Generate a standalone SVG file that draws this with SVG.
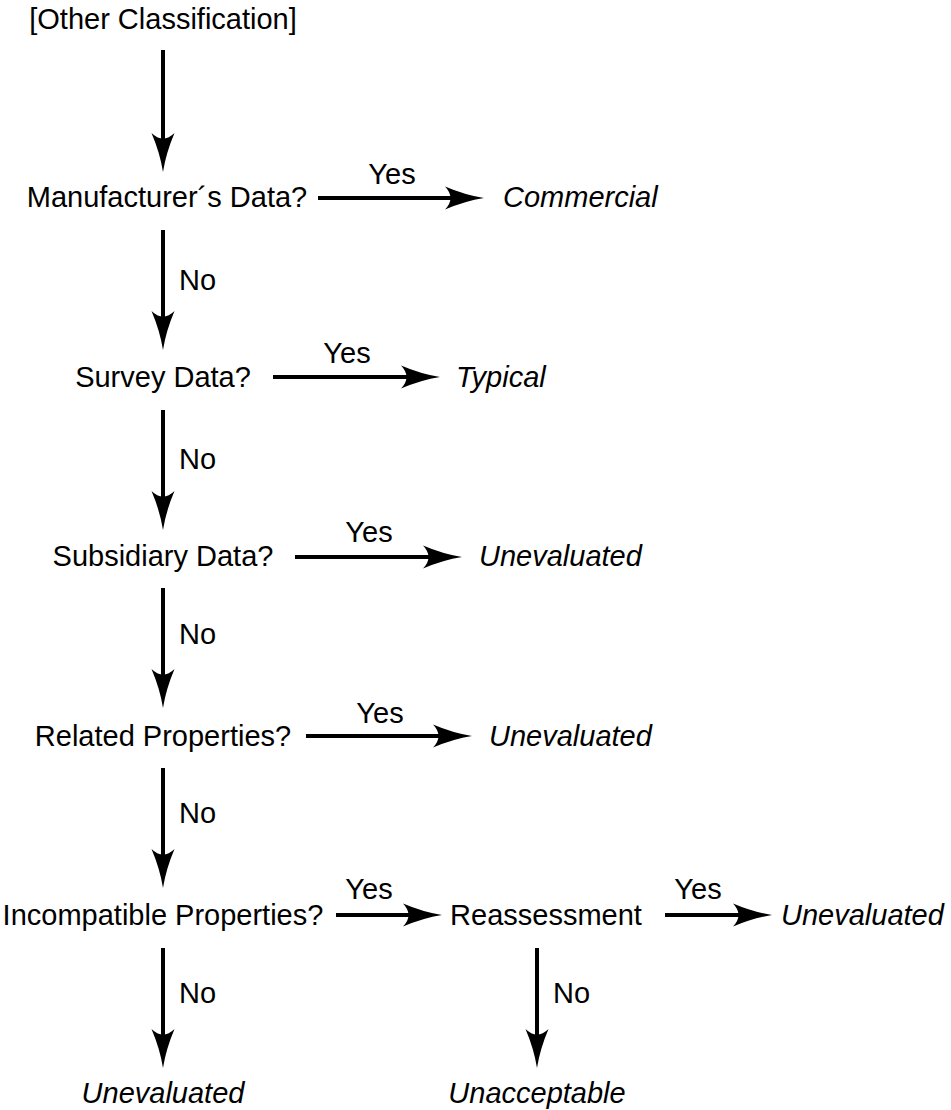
<svg xmlns="http://www.w3.org/2000/svg" width="951" height="1110" viewBox="0 0 951 1110">
<style>
text{font-family:"Liberation Sans",Arial,sans-serif;font-size:29px;fill:#000}
.c{text-anchor:middle}
.i{font-style:italic}
.ln{stroke:#000;stroke-width:4;fill:none}
</style>
<defs>
<marker id="ah" viewBox="-42 -13 44 26" refX="-20" refY="0" markerWidth="44" markerHeight="26" markerUnits="userSpaceOnUse" orient="auto">
<path d="M0,0 Q-19,3 -39,11.5 Q-28,0 -39,-11.5 Q-19,-3 0,0 Z" fill="#000"/>
</marker>
</defs>
<rect width="951" height="1110" fill="#fff"/>
<g id="connectors">
<path class="ln" d="M163,50 V152" marker-end="url(#ah)"/>
<path class="ln" d="M163,230 V330" marker-end="url(#ah)"/>
<path class="ln" d="M163,410 V510" marker-end="url(#ah)"/>
<path class="ln" d="M163,588 V688" marker-end="url(#ah)"/>
<path class="ln" d="M163,768 V868" marker-end="url(#ah)"/>
<path class="ln" d="M163,948 V1048" marker-end="url(#ah)"/>
<path class="ln" d="M537,948 V1048" marker-end="url(#ah)"/>
<path class="ln" d="M318,198 H464" marker-end="url(#ah)"/>
<path class="ln" d="M273,377 H420" marker-end="url(#ah)"/>
<path class="ln" d="M295,557 H442" marker-end="url(#ah)"/>
<path class="ln" d="M306,736 H452" marker-end="url(#ah)"/>
<path class="ln" d="M336,915 H422" marker-end="url(#ah)"/>
<path class="ln" d="M665,915 H752" marker-end="url(#ah)"/>
<text class="c" x="392" y="184">Yes</text>
<text class="c" x="347" y="363">Yes</text>
<text class="c" x="369" y="542">Yes</text>
<text class="c" x="380" y="723">Yes</text>
<text class="c" x="369" y="899">Yes</text>
<text class="c" x="698" y="899">Yes</text>
<text x="179" y="290">No</text>
<text x="179" y="469">No</text>
<text x="179" y="644">No</text>
<text x="179" y="823">No</text>
<text x="179" y="1003">No</text>
<text x="553" y="1003">No</text>
</g>
<g id="start"><text class="c" x="163" y="29">[Other Classification]</text></g>
<g id="manufacturer"><text class="c" x="167" y="207">Manufacturer´s Data?</text></g>
<g id="commercial"><text class="i" x="503" y="207">Commercial</text></g>
<g id="survey"><text class="c" x="163" y="387">Survey Data?</text></g>
<g id="typical"><text class="i" x="456" y="387">Typical</text></g>
<g id="subsidiary"><text class="c" x="163" y="566">Subsidiary Data?</text></g>
<g id="unevaluated1"><text class="i" x="479" y="566">Unevaluated</text></g>
<g id="related"><text class="c" x="163" y="746">Related Properties?</text></g>
<g id="unevaluated2"><text class="i" x="489" y="746">Unevaluated</text></g>
<g id="incompatible"><text class="c" x="163" y="925">Incompatible Properties?</text></g>
<g id="reassessment"><text class="c" x="546" y="925">Reassessment</text></g>
<g id="unevaluated3"><text class="i" x="781" y="925">Unevaluated</text></g>
<g id="unevaluated4"><text class="i c" x="163" y="1103">Unevaluated</text></g>
<g id="unacceptable"><text class="i c" x="537" y="1103">Unacceptable</text></g>
</svg>
